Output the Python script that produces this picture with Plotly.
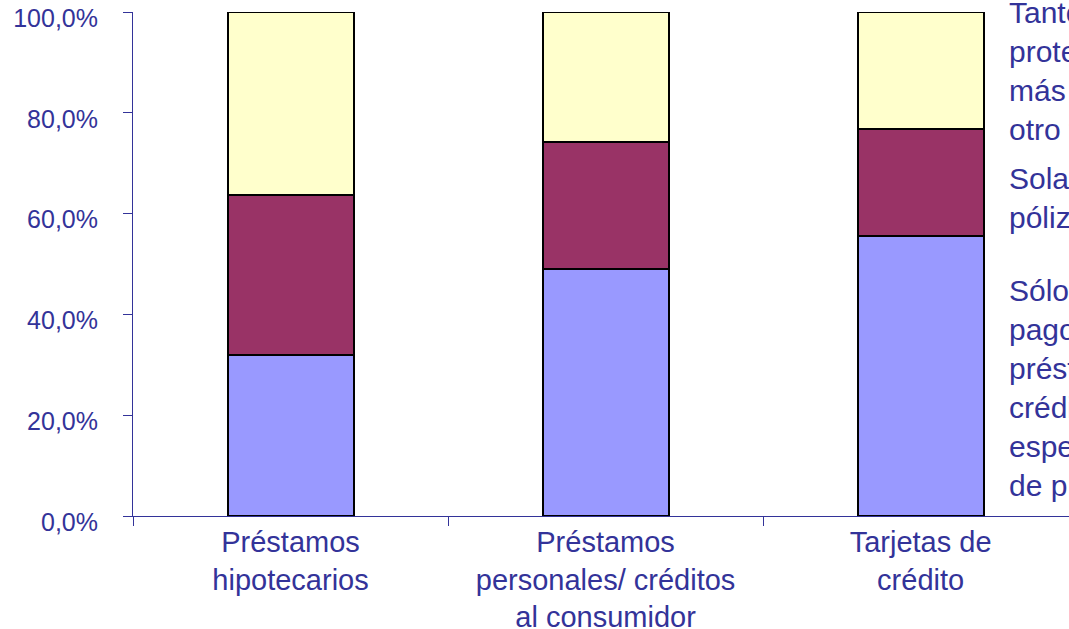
import plotly.graph_objects as go

categories = ["Préstamos<br>hipotecarios",
              "Préstamos<br>personales/ créditos<br>al consumidor",
              "Tarjetas de<br>crédito"]

series_names = [
    "Sólo seguro de<br>pagos del<br>préstamo/<br>crédito<br>específico<br>de protección",
    "Solamente otra<br>póliza de seguro",
    "Tanto seguro de<br>protección de pagos<br>más algún<br>otro tipo de seguro",
]
solo_proteccion = [0.320, 0.491, 0.556]
solo_otra = [0.317, 0.252, 0.212]
ambos = [0.363, 0.257, 0.232]

series_values = [solo_proteccion, solo_otra, ambos]
colors = ["#9999FF", "#993366", "#FFFFCC"]

TEXT = "#333399"
FONT = "Liberation Sans, Arial, sans-serif"

fig = go.Figure()
for name, vals, col in zip(series_names, series_values, colors):
    fig.add_trace(go.Bar(
        x=categories, y=vals, name=name, width=0.4,
        marker=dict(color=col, line=dict(color="black", width=2)),
        showlegend=False,
    ))

# legend-like labels on the right (clipped by the page edge like the original)
legend_y = [1.036, 0.706, 0.484]
for name, yy in zip(reversed(series_names), legend_y):
    fig.add_annotation(
        text=name, xref="paper", yref="paper", x=0.9335, y=yy,
        xanchor="left", yanchor="top", align="left", showarrow=False,
        font=dict(size=30, color=TEXT, family=FONT),
    )

fig.update_layout(
    barmode="stack",
    width=1069, height=629,
    margin=dict(l=133, r=0, t=12, b=113, autoexpand=False),
    paper_bgcolor="white", plot_bgcolor="white",
    separators=",.",
    font=dict(family=FONT, color=TEXT),
    showlegend=False,
)
fig.update_xaxes(
    range=[-0.5, 2.471], showgrid=False, showline=True, linecolor=TEXT, linewidth=1,
    ticks="outside", tickson="boundaries", ticklen=9, tickcolor=TEXT,
    tickfont=dict(size=29, color=TEXT, family=FONT), automargin=False,
)
fig.update_yaxes(
    range=[0, 1], tickvals=[0, 0.2, 0.4, 0.6, 0.8, 1.0], tickformat=".1%",
    showgrid=False, zeroline=False, showline=True, linecolor=TEXT, linewidth=1,
    ticks="outside", ticklen=9, tickcolor=TEXT, ticklabelstandoff=20,
    ticklabelshift=6, ticklabeloverflow="allow", automargin=False,
    tickfont=dict(size=25, color=TEXT, family=FONT),
)

fig.write_html("out.html", config={"displayModeBar": False},
               post_script="document.body.style.margin='0';")
